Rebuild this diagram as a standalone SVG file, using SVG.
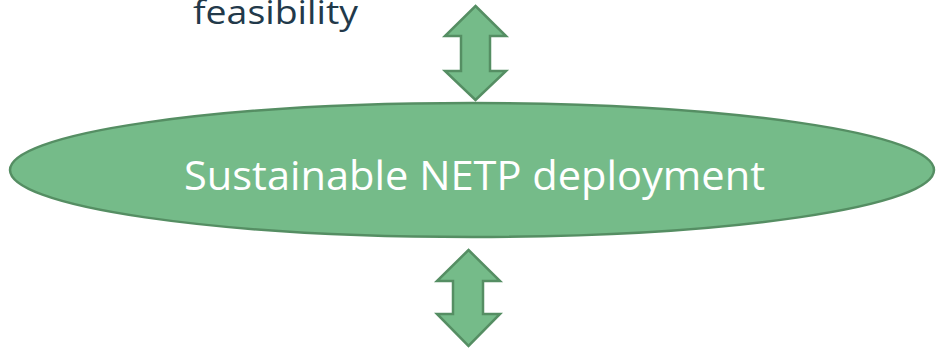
<svg xmlns="http://www.w3.org/2000/svg" width="938" height="349" viewBox="0 0 938 349">
<style>
.shape{fill:#75bb89;stroke:#558e63;stroke-width:2.5;stroke-linejoin:miter}
.lbl{font-family:"Open Sans","Liberation Sans",sans-serif}
</style>
<rect width="938" height="349" fill="#ffffff"/>
<g id="feasibility">
<text class="lbl" x="193" y="23.5" font-size="33" fill="#22394a" textLength="165" lengthAdjust="spacingAndGlyphs">feasibility</text>
</g>
<g id="connectors">
<path class="shape" d="M475.5,6 L506,36 L490,36 L490,71 L506,71 L475.5,100 L445,71 L461,71 L461,36 L445,36 Z"/>
<path class="shape" d="M468.5,250 L500,281 L483,281 L483,314 L500,314 L468.5,346 L437,314 L453,314 L453,281 L437,281 Z"/>
</g>
<g id="deployment">
<ellipse class="shape" cx="472" cy="170" rx="462" ry="67"/>
<text class="lbl" x="184" y="190" font-size="40" fill="#ffffff" textLength="581" lengthAdjust="spacingAndGlyphs">Sustainable NETP deployment</text>
</g>
</svg>
